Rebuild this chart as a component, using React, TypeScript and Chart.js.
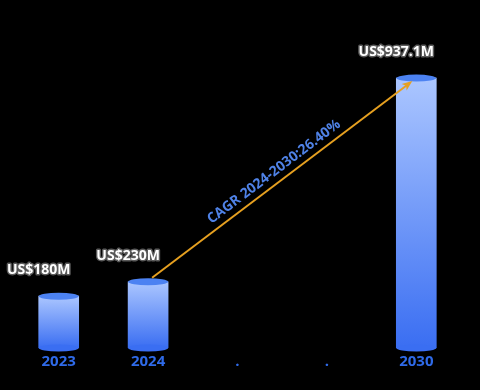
import React, { useEffect, useRef } from 'react';
import { Chart, registerables } from 'chart.js';
Chart.register(...registerables);

const categories = ['2023', '2024', '.', '.', '2030'];
const values: (number | null)[] = [180, 230, null, null, 937.1];
const valueLabels = ['US$180M', 'US$230M', '', '', 'US$937.1M'];
const cagrText = 'CAGR 2024-2030:26.40%';
const cagrFrom = 1;
const cagrTo = 4;

const TOP_COLOR = '#abc6ff';
const BOTTOM_COLOR = '#3a6ef2';
const CAP_COLOR = '#4c82f2';
const ARROW_COLOR = '#e6a020';

const decorPlugin = {
  id: 'decor',
  afterDatasetsDraw(chart: any) {
    const ctx = chart.ctx as CanvasRenderingContext2D;
    const meta = chart.getDatasetMeta(0);
    ctx.save();
    meta.data.forEach((bar: any, i: number) => {
      if (values[i] == null) return;
      const { x, y, base, width } = bar.getProps(['x', 'y', 'base', 'width'], true);
      const rx = width / 2;
      ctx.fillStyle = BOTTOM_COLOR;
      ctx.beginPath();
      ctx.ellipse(x, base, rx, 3.5, 0, 0, Math.PI * 2);
      ctx.fill();
      ctx.fillStyle = CAP_COLOR;
      ctx.beginPath();
      ctx.ellipse(x, y, rx, 3.5, 0, 0, Math.PI * 2);
      ctx.fill();
    });
    const a = meta.data[cagrFrom].getProps(['x', 'y'], true);
    const b = meta.data[cagrTo].getProps(['x', 'y'], true);
    const sx = a.x + 4, sy = a.y - 4;
    const ex = b.x - 4, ey = b.y + 3;
    const ang = Math.atan2(ey - sy, ex - sx);
    ctx.strokeStyle = ARROW_COLOR;
    ctx.fillStyle = ARROW_COLOR;
    ctx.lineWidth = 2;
    ctx.beginPath();
    ctx.moveTo(sx, sy);
    ctx.lineTo(ex - 6 * Math.cos(ang), ey - 6 * Math.sin(ang));
    ctx.stroke();
    const hl = 11, hw = 0.38;
    ctx.beginPath();
    ctx.moveTo(ex, ey);
    ctx.lineTo(ex - hl * Math.cos(ang - hw), ey - hl * Math.sin(ang - hw));
    ctx.lineTo(ex - hl * 0.7 * Math.cos(ang), ey - hl * 0.7 * Math.sin(ang));
    ctx.lineTo(ex - hl * Math.cos(ang + hw), ey - hl * Math.sin(ang + hw));
    ctx.closePath();
    ctx.fill();
    const mx = (sx + ex) / 2, my = (sy + ey) / 2;
    const nx = Math.sin(ang), ny = -Math.cos(ang);
    ctx.save();
    ctx.translate(mx + nx * 11 - 2 * Math.cos(ang), my + ny * 11 - 2 * Math.sin(ang));
    ctx.rotate(ang);
    ctx.font = 'bold 14px "Open Sans"';
    ctx.fillStyle = '#4f82e6';
    ctx.textAlign = 'center';
    ctx.textBaseline = 'middle';
    ctx.fillText(cagrText, 0, 0);
    ctx.restore();
    ctx.font = 'bold 14px "Open Sans"';
    ctx.textAlign = 'center';
    ctx.textBaseline = 'middle';
    ctx.lineJoin = 'round';
    meta.data.forEach((bar: any, i: number) => {
      if (!valueLabels[i]) return;
      const { x, y, width } = bar.getProps(['x', 'y', 'width'], true);
      const lx = x - width / 2, ly = y - 26;
      ctx.strokeStyle = '#5a5a5a';
      ctx.lineWidth = 3;
      ctx.strokeText(valueLabels[i], lx, ly);
      ctx.fillStyle = '#ffffff';
      ctx.fillText(valueLabels[i], lx, ly);
    });
    ctx.restore();
  },
};

export default function App() {
  const ref = useRef<HTMLCanvasElement>(null);
  useEffect(() => {
    document.body.style.margin = '0';
    document.body.style.background = '#000';
    const chart = new Chart(ref.current!, {
      type: 'bar',
      data: {
        labels: categories,
        datasets: [
          {
            data: values,
            barThickness: 40,
            borderWidth: 0,
            backgroundColor: (c: any) => {
              const chart = c.chart;
              const ys = chart.scales?.y;
              const v = c.raw;
              if (!ys || v == null) return BOTTOM_COLOR;
              const top = ys.getPixelForValue(v);
              const base = ys.getPixelForValue(0);
              if (!isFinite(top) || !isFinite(base)) return BOTTOM_COLOR;
              const g = chart.ctx.createLinearGradient(0, top, 0, base);
              g.addColorStop(0, TOP_COLOR);
              g.addColorStop(1, BOTTOM_COLOR);
              return g;
            },
          },
        ],
      },
      options: {
        responsive: true,
        maintainAspectRatio: false,
        animation: false,
        layout: { padding: { left: 14, right: 19, top: 60, bottom: 14 } },
        plugins: { legend: { display: false }, tooltip: { enabled: false } },
        scales: {
          x: {
            grid: { display: false, drawTicks: false },
            border: { display: false },
            ticks: {
              color: '#2f6ae8',
              font: { family: '"Open Sans"', size: 15, weight: 'bold' },
              padding: 5,
              maxRotation: 0,
            },
          },
          y: { display: false, min: 0, max: 1000 },
        },
      },
      plugins: [decorPlugin],
    });
    return () => chart.destroy();
  }, []);
  return (
    <div style={{ width: 480, height: 390, background: '#000' }}>
      <canvas ref={ref} />
    </div>
  );
}
